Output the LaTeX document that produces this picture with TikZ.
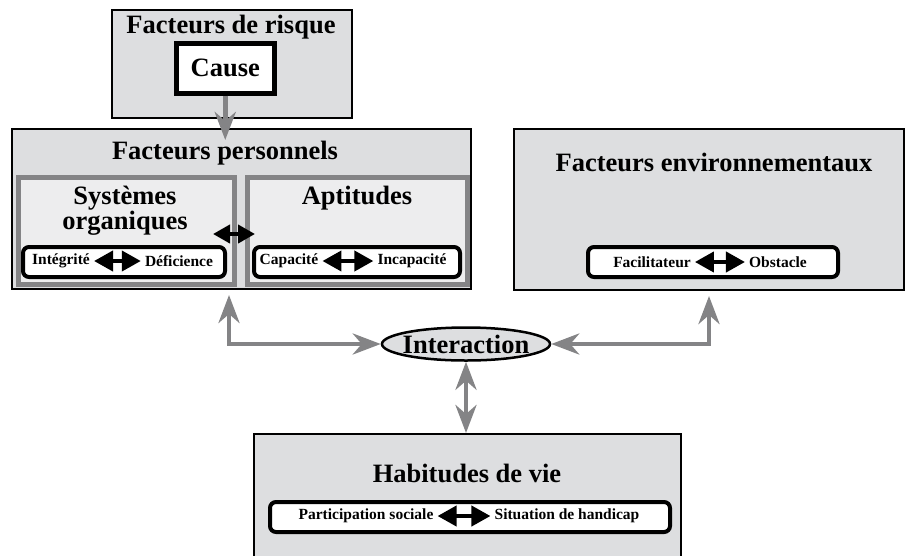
\documentclass[tikz,border=0pt]{standalone}
\usepackage{fontspec}
\setmainfont{Liberation Serif}
\usetikzlibrary{arrows.meta, positioning, shapes.geometric, calc}

\definecolor{boxgray}{RGB}{221,222,224}
\definecolor{innergray}{RGB}{237,237,238}
\definecolor{framegray}{RGB}{132,132,134}

\tikzset{
  outerbox/.style={draw=black, line width=2pt, fill=boxgray, anchor=north west, inner sep=0pt},
  innerbox/.style={draw=framegray, line width=5pt, fill=innergray, anchor=north west, inner sep=0pt},
  pill/.style={draw=black, line width=4pt, fill=white, rounded corners=6pt, anchor=north west, inner sep=0pt},
  title/.style={font=\bfseries\fontsize{26.5}{24}\selectfont, align=center, inner sep=1pt},
  small/.style={font=\bfseries\fontsize{15.5}{15.5}\selectfont, inner sep=1pt},
  greyboth/.style={draw=framegray, line width=4.5pt, line join=miter,
    {Stealth[length=28pt,width=21pt,inset=9pt]}-{Stealth[length=28pt,width=21pt,inset=9pt]}},
  greyone/.style={draw=framegray, line width=5pt, -{Stealth[length=28pt,width=21pt,inset=9pt]}},
  blackboth/.style={line width=4pt, shorten <=3pt, shorten >=3pt,
    {Triangle[length=19pt,width=20pt]}-{Triangle[length=19pt,width=20pt]}},
}

\begin{document}
\begin{tikzpicture}[x=1pt, y=-1pt]
  \clip (0,0) rectangle (907,555);

  % Boxes
  \node[outerbox, minimum width=240, minimum height=108] (risque) at (111,9) {};
  \node[outerbox, minimum width=459, minimum height=160] (personnels) at (11,128) {};
  \node[outerbox, minimum width=390, minimum height=161] (environ) at (513,128) {};
  \node[outerbox, minimum width=427, minimum height=150] (habitudes) at (253,433) {};
  \node[innerbox, minimum width=216, minimum height=107] (organiques) at (16,175) {};
  \node[innerbox, minimum width=220, minimum height=107] (aptitudes) at (245,175) {};
  \node[outerbox, fill=white, line width=4.5pt, minimum width=98, minimum height=50] (cause) at (174,41) {};

  % Titles
  \node[title] (t-risque) at (231,27) {Facteurs de risque};
  \node[title] at (cause) {Cause};
  \node[title] (t-pers) at (225,153) {Facteurs personnels};
  \node[title] (t-org) at (125,211) {Systèmes\\organiques};
  \node[title] (t-apt) at (357,198) {Aptitudes};
  \node[title] (t-env) at (714,162) {Facteurs environnementaux};
  \node[title] (t-hab) at (467,473) {Habitudes de vie};
  \node[ellipse, draw=black, line width=2.5pt, fill=boxgray, minimum width=168,
    minimum height=33, inner xsep=-4pt, inner ysep=0pt,
    font=\bfseries\fontsize{26.5}{24}\selectfont] (interaction) at (466,344) {Interaction};

  % Scales with their two ends
  \foreach \nm/\px/\py/\pw/\ly/\la/\lx/\ra/\rx in {
      int/21/245/202/261/Intégrité/61/Déficience/179,
      cap/252/245/206/261/Capacité/289/Incapacité/412,
      fac/586/245/250/262/Facilitateur/652/Obstacle/778,
      par/268/500/400/516/Participation sociale/366/Situation de handicap/567} {
    \node[pill, minimum width=\pw, minimum height=30] (\nm) at (\px,\py) {};
    \node[small] (\nm-l) at (\lx,\ly) {\la};
    \node[small] (\nm-r) at (\rx,\ly) {\ra};
    \draw[blackboth] (\nm-l) -- (\nm-r);
  }

  % Connectors
  \draw[blackboth, shorten <=0pt, shorten >=0pt,
    {Triangle[length=17pt,width=18pt]}-{Triangle[length=17pt,width=18pt]}]
    ([xshift=-24pt,yshift=-3pt]organiques.east) -- ([xshift=10pt,yshift=-3pt]aptitudes.west);
  \draw[greyone] (cause.south) -- ([yshift=-12pt]cause.south |- personnels.north);
  \draw[greyboth] (interaction.west) -| ($(personnels.south west)+(218,5)$);
  \draw[greyboth] (interaction.east) -| ($(environ.south west)+(196,5)$);
  \draw[greyboth] (interaction.south) -- (interaction.south |- habitudes.north);
\end{tikzpicture}
\end{document}
